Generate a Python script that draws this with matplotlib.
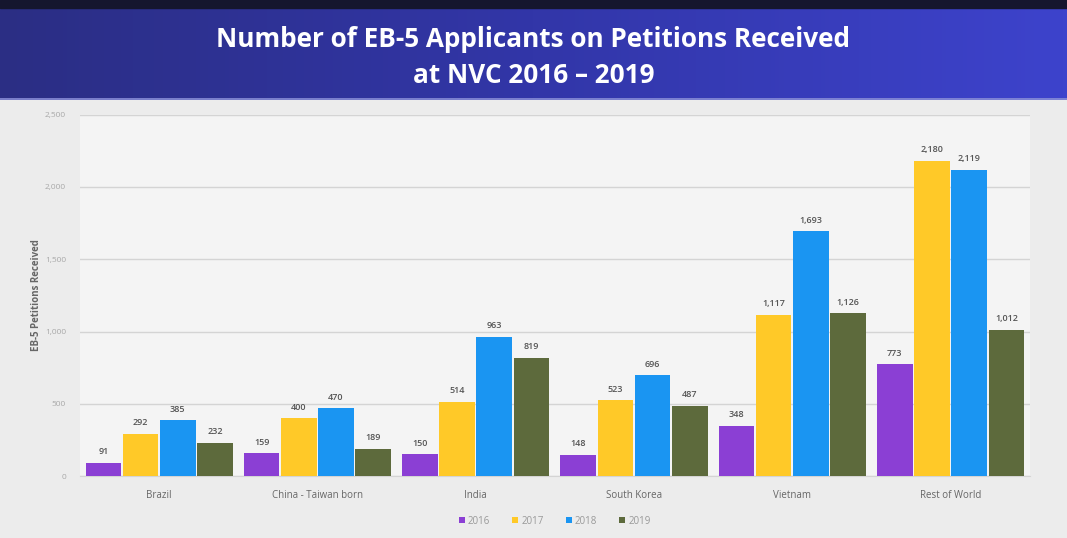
import numpy as np
import matplotlib
matplotlib.use("Agg")
import matplotlib.pyplot as plt
from matplotlib.colors import LinearSegmentedColormap

# data
countries = ["Brazil", "China - Taiwan born", "India", "South Korea", "Vietnam", "Rest of World"]
years = ["2016", "2017", "2018", "2019"]
v2016 = [91, 159, 150, 148, 348, 773]
v2017 = [292, 400, 514, 523, 1117, 2180]
v2018 = [385, 470, 963, 696, 1693, 2119]
v2019 = [232, 189, 819, 487, 1126, 1012]
yticks = [0, 500, 1000, 1500, 2000, 2500]

series = [v2016, v2017, v2018, v2019]
colors = ["#8b3fd4", "#ffc928", "#1a95f2", "#5d6a3c"]

plt.rcParams["font.family"] = ["Open Sans", "DejaVu Sans"]

fig = plt.figure(figsize=(10.67, 5.38), dpi=100)
fig.patch.set_facecolor("#ececec")

# title band across the top
band = fig.add_axes([0, 0.815, 1, 0.185])
grad = np.linspace(0, 1, 256).reshape(1, -1)
cmap = LinearSegmentedColormap.from_list("band", ["#2b2e84", "#3236a8", "#3d43cc"])
band.imshow(grad, aspect="auto", cmap=cmap, extent=[0, 1, 0, 1])
band.axhspan(0.92, 1.0, color="#15162e")
band.axhline(0.01, color="#8a8fd8", lw=1.2)
band.set_xlim(0, 1)
band.set_ylim(0, 1)
band.axis("off")
band.text(0.5, 0.60, "Number of EB-5 Applicants on Petitions Received",
          ha="center", va="center", color="white", fontsize=18.8, fontweight="bold")
band.text(0.5, 0.245, "at NVC 2016 \u2013 2019",
          ha="center", va="center", color="white", fontsize=18.8, fontweight="bold")

ax = fig.add_axes([0.075, 0.115, 0.89, 0.672])
ax.set_facecolor("#f4f4f4")

x = np.arange(len(countries))
step = 0.235
width = 0.225
for i, vals in enumerate(series):
    offs = x + (i - 1.5) * step
    bars = ax.bar(offs, vals, width=width, color=colors[i], label=years[i], zorder=3)
    for b, v in zip(bars, vals):
        ax.text(b.get_x() + b.get_width() / 2, v + 45, "{:,}".format(v),
                ha="center", va="bottom", fontsize=6.5, color="#555555", fontweight="semibold")

ax.set_xlim(-0.5, 5.5)
ax.set_ylim(0, 2500)
ax.set_yticks(yticks)
ax.set_yticklabels(["{:,}".format(t) for t in yticks], fontsize=6, color="#a8a8a8")
ax.set_xticks(x)
ax.set_xticklabels(countries, fontsize=7, color="#666666")
ax.tick_params(axis="both", length=0, pad=10)
ax.grid(axis="y", color="#d4d4d4", lw=1, zorder=0)
for s in ["top", "right", "left"]:
    ax.spines[s].set_visible(False)
ax.spines["bottom"].set_color("#d4d4d4")
ax.set_ylabel("EB-5 Petitions Received", fontsize=7, color="#666666", fontweight="bold", labelpad=2)

ax.legend(loc="upper center", bbox_to_anchor=(0.5, -0.085), ncol=4, frameon=False,
          fontsize=7, handlelength=0.6, handleheight=0.6, columnspacing=2.3,
          handletextpad=0.3, labelcolor="#999999")

fig.savefig("out.png", dpi=100, facecolor=fig.get_facecolor())
